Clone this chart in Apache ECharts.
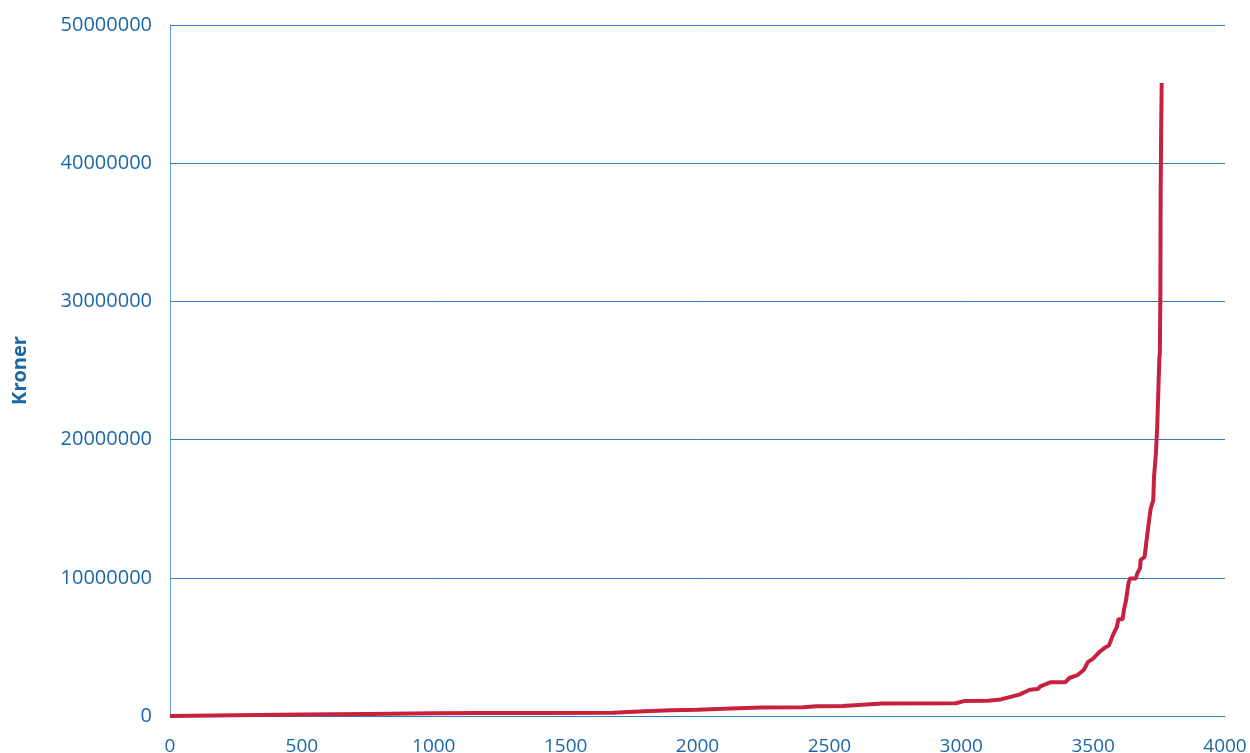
<!DOCTYPE html>
<html>
<head>
<meta charset="utf-8">
<script src="https://cdn.jsdelivr.net/npm/echarts@6/dist/echarts.min.js"></script>
<style>
html,body{margin:0;padding:0;background:#fff;}
#chart{width:1250px;height:753px;}
</style>
</head>
<body>
<div id="chart"></div>
<script>
const ranks = [0, 250, 500, 750, 1000, 1170, 1400, 1680, 1800, 1900, 2000, 2100, 2240, 2400, 2450, 2550, 2700, 2980, 3010, 3100, 3150, 3220, 3260, 3290, 3300, 3340, 3395, 3410, 3440, 3465, 3480, 3500, 3525, 3545, 3560, 3575, 3590, 3596, 3612, 3617, 3625, 3634, 3640, 3662, 3667, 3678, 3680, 3695, 3700, 3709, 3718, 3728, 3731, 3738, 3743, 3747, 3751, 3753, 3755, 3756, 3758, 3760];
const kroner = [0, 50000, 100000, 150000, 190000, 220000, 220000, 240000, 350000, 420000, 450000, 520000, 620000, 640000, 700000, 720000, 900000, 920000, 1080000, 1100000, 1200000, 1550000, 1900000, 1950000, 2150000, 2450000, 2450000, 2750000, 2950000, 3350000, 3900000, 4150000, 4650000, 4950000, 5100000, 5850000, 6450000, 7000000, 7000000, 7700000, 8400000, 9600000, 9950000, 9950000, 10300000, 10700000, 11300000, 11500000, 12300000, 13700000, 15000000, 15600000, 17300000, 19000000, 20900000, 23400000, 25800000, 26300000, 30600000, 37800000, 42600000, 45800000];
const xTicks = [0, 500, 1000, 1500, 2000, 2500, 3000, 3500, 4000];
const yTicks = [0, 10000000, 20000000, 30000000, 40000000, 50000000];
const yName = 'Kroner';

const blue = '#1b67a6';
const chart = echarts.init(document.getElementById('chart'));
chart.setOption({
  animation: false,
  grid: {left: 170, right: 25, top: 25, bottom: 37, containLabel: false, outerBoundsMode: 'none'},
  xAxis: {
    type: 'value', min: xTicks[0], max: xTicks[xTicks.length - 1], interval: 500,
    axisLine: {show: true, lineStyle: {color: '#2f7bbd', width: 1}},
    axisTick: {show: false},
    splitLine: {show: false},
    axisLabel: {color: blue, fontFamily: 'Open Sans', fontSize: 19, margin: 21,
      formatter: v => String(v)}
  },
  yAxis: {
    type: 'value', min: yTicks[0], max: yTicks[yTicks.length - 1], interval: 10000000,
    name: yName, nameLocation: 'middle', nameGap: 140, nameRotate: 90,
    nameTextStyle: {color: blue, fontFamily: 'Open Sans', fontSize: 20, fontWeight: 'bold'},
    axisLine: {show: true, lineStyle: {color: '#5a9bd0', width: 1}},
    axisTick: {show: false},
    splitLine: {show: true, lineStyle: {color: '#2f7bbd', width: 1}},
    axisLabel: {color: blue, fontFamily: 'Open Sans', fontSize: 20, margin: 18,
      formatter: v => String(v)}
  },
  series: [{
    type: 'line',
    data: ranks.map((r, i) => [r, kroner[i]]),
    showSymbol: false,
    lineStyle: {color: '#c8203f', width: 4},
    itemStyle: {color: '#c8203f'}
  }]
});
</script>
</body>
</html>
